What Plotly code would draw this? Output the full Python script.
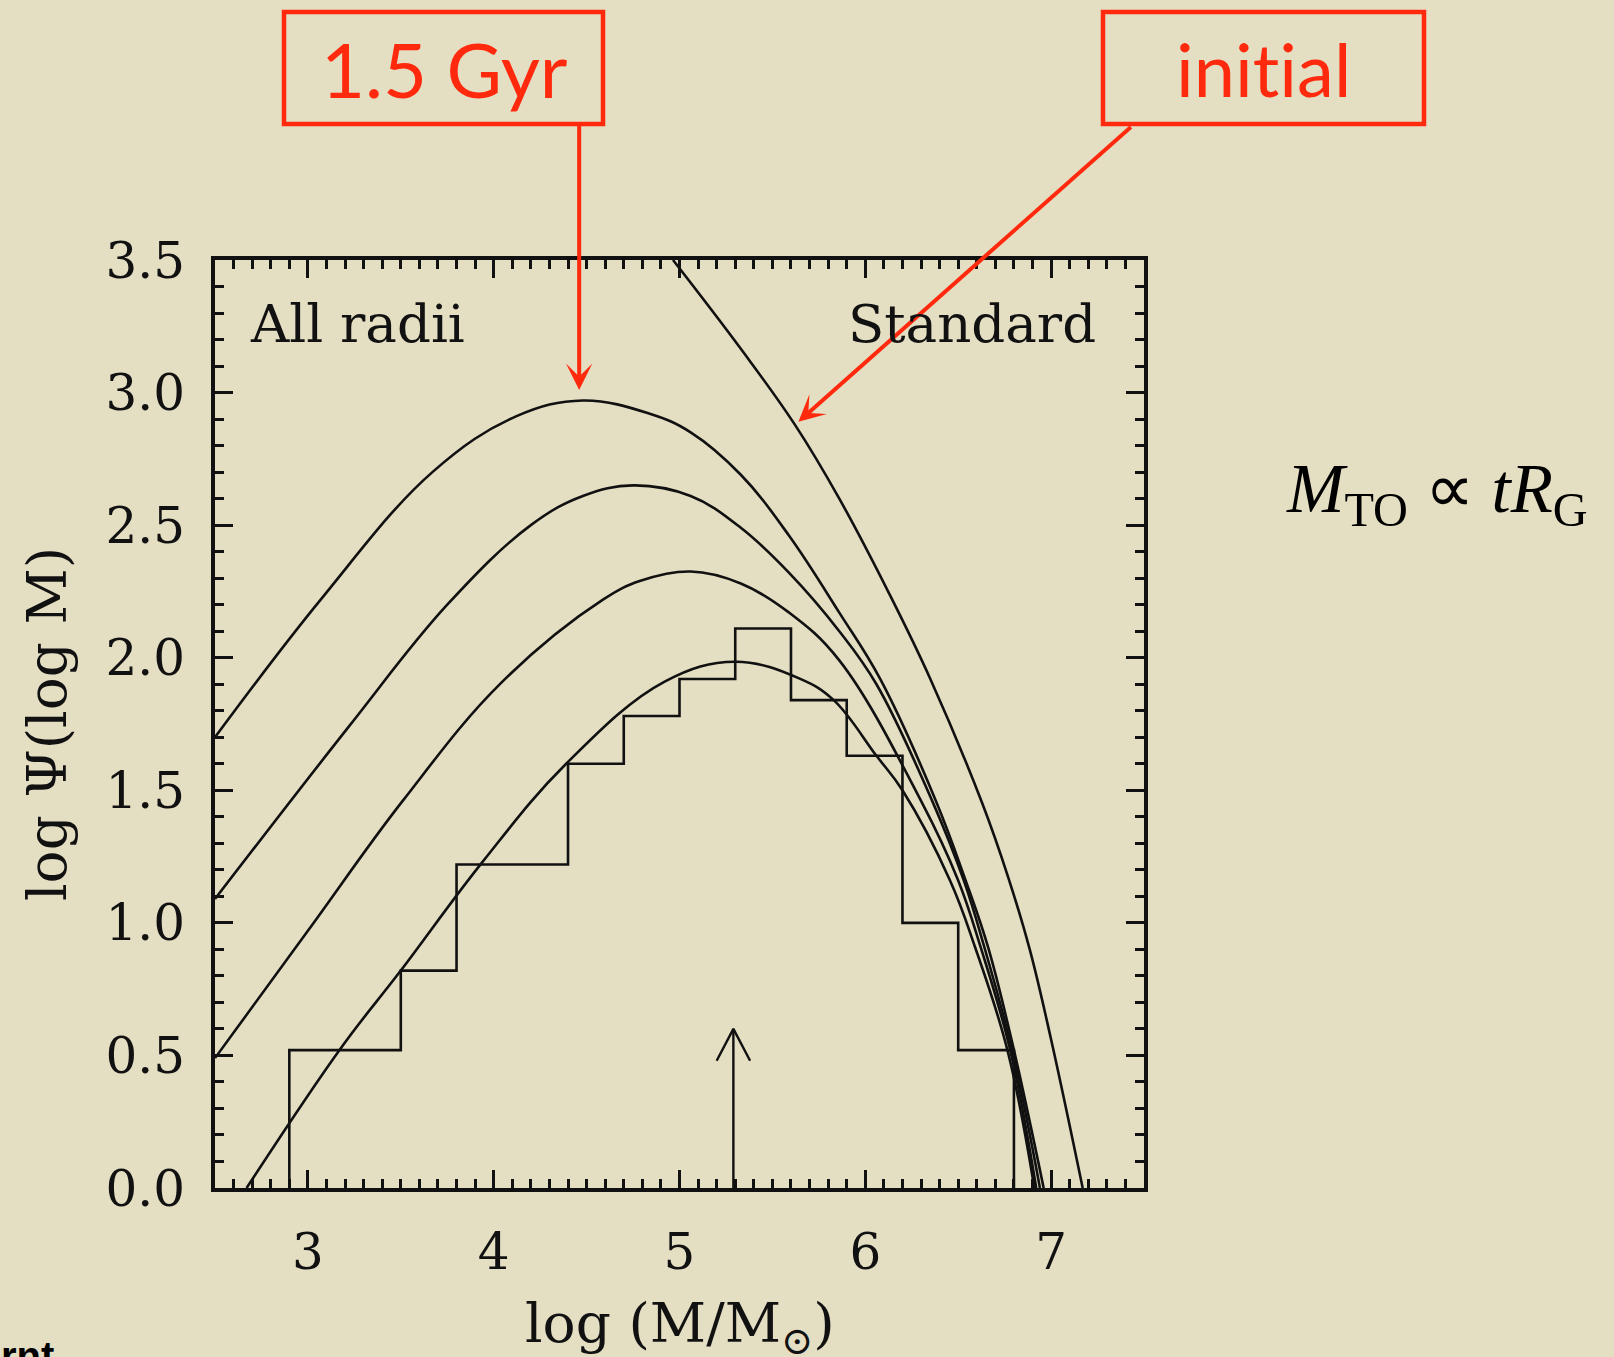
import plotly.graph_objects as go

# ---------------- data ----------------
# evolved mass functions (log Psi vs log M)
c1_x = [2.5, 3.07, 3.67, 4.12, 4.48, 4.84, 5.06, 5.33, 5.59, 5.86, 6.08, 6.38, 6.54, 6.66, 6.80, 6.96]
c1_y = [1.70, 2.22, 2.70, 2.91, 2.97, 2.92, 2.85, 2.69, 2.46, 2.17, 1.92, 1.46, 1.16, 0.91, 0.52, 0.0]

c2_x = [2.5, 3.22, 3.75, 4.2, 4.48, 4.75, 5.06, 5.33, 5.59, 5.86, 6.06, 6.36, 6.53, 6.64, 6.79, 6.94]
c2_y = [1.09, 1.74, 2.20, 2.50, 2.61, 2.65, 2.61, 2.49, 2.32, 2.10, 1.90, 1.46, 1.16, 0.91, 0.52, 0.0]

c3_x = [2.5, 3.0, 3.51, 4.04, 4.59, 4.79, 5.06, 5.33, 5.59, 5.86, 6.30, 6.50, 6.62, 6.78, 6.92]
c3_y = [0.49, 0.97, 1.46, 1.905, 2.22, 2.29, 2.325, 2.28, 2.17, 1.99, 1.46, 1.16, 0.91, 0.52, 0.0]

c4_x = [2.67, 3.18, 3.50, 3.94, 4.39, 4.92, 5.30, 5.65, 5.83, 6.06, 6.20, 6.456, 6.59, 6.765, 6.91]
c4_y = [0.0, 0.53, 0.82, 1.23, 1.60, 1.91, 1.985, 1.92, 1.84, 1.63, 1.50, 1.16, 0.91, 0.52, 0.0]

init_x = [4.965, 5.33, 5.62, 5.86, 6.13, 6.35, 6.63, 6.77, 6.885, 7.00, 7.17]
init_y = [3.50, 3.165, 2.88, 2.60, 2.24, 1.92, 1.45, 1.17, 0.90, 0.56, 0.0]

# observed histogram
bin_edges = [2.9, 3.2, 3.5, 3.8, 4.1, 4.4, 4.7, 5.0, 5.3, 5.6, 5.9, 6.2, 6.5, 6.8]
hist_vals = [0.52, 0.52, 0.82, 1.22, 1.22, 1.60, 1.78, 1.92, 2.11, 1.84, 1.63, 1.00, 0.52]

# vertical arrow marking the peak
arrow_x = 5.29
arrow_tip = 0.60
arrow_head_dx = 0.09
arrow_head_dy = 0.12

# red call-outs (data points they point at)
gyr_tip = (4.46, 3.01)
init_tip = (5.64, 2.89)

x_ticks = [3, 4, 5, 6, 7]
y_ticks = [0.0, 0.5, 1.0, 1.5, 2.0, 2.5, 3.0, 3.5]

# ---------------- figure ----------------
BLACK = "#111111"
RED = "#FF2A0D"
SERIF = "DejaVu Serif"

fig = go.Figure()

for xs, ys in [(c1_x, c1_y), (c2_x, c2_y), (c3_x, c3_y), (c4_x, c4_y), (init_x, init_y)]:
    fig.add_trace(go.Scatter(x=xs, y=ys, mode="lines",
                             line=dict(color=BLACK, width=2.6, shape="spline", smoothing=1.1),
                             hoverinfo="skip", showlegend=False))

# histogram as step line
hx = [bin_edges[0]] + bin_edges[:-1] + [bin_edges[-1]]
hy = [0.0] + hist_vals + [0.0]
fig.add_trace(go.Scatter(x=hx, y=hy, mode="lines",
                         line=dict(color=BLACK, width=2.6, shape="hv"),
                         hoverinfo="skip", showlegend=False))

# arrow (shaft + open head)
fig.add_trace(go.Scatter(
    x=[arrow_x, arrow_x, None, arrow_x - arrow_head_dx, arrow_x, arrow_x + arrow_head_dx],
    y=[0.0, arrow_tip, None, arrow_tip - arrow_head_dy, arrow_tip, arrow_tip - arrow_head_dy],
    mode="lines", line=dict(color=BLACK, width=2.4), hoverinfo="skip", showlegend=False))

# plot-area geometry (pixels) used to place paper-referenced decorations
W, H = 1614, 1357
L, R, T, B = 215, 1144, 260, 1188


def px(xp):
    return (xp - L) / (R - L)


def py(yp):
    return (B - yp) / (B - T)


# red boxes
for x0, x1 in [(284, 603), (1103, 1424)]:
    fig.add_shape(type="rect", xref="paper", yref="paper",
                  x0=px(x0), x1=px(x1), y0=py(124), y1=py(12),
                  line=dict(color=RED, width=4.5), fillcolor="rgba(0,0,0,0)")

NOLIG = "<span style='font-variant-ligatures:none'>{}</span>"
fig.add_annotation(xref="paper", yref="paper", x=px(444), y=py(68),
                   text=NOLIG.format("1.5 Gyr"), showarrow=False,
                   font=dict(family="Lato", size=76, color=RED), xanchor="center", yanchor="middle")
fig.add_annotation(xref="paper", yref="paper", x=px(1263), y=py(68),
                   text=NOLIG.format("initial"), showarrow=False,
                   font=dict(family="Lato", size=74, color=RED), xanchor="center", yanchor="middle")

# red arrows
fig.add_annotation(x=gyr_tip[0], y=gyr_tip[1], xref="x", yref="y", ax=0, ay=124 - 391,
                   text="", showarrow=True, arrowhead=3, arrowsize=1.1, arrowwidth=4,
                   arrowcolor=RED, standoff=0)
fig.add_annotation(x=init_tip[0], y=init_tip[1], xref="x", yref="y", ax=1132 - 798, ay=126 - 422,
                   text="", showarrow=True, arrowhead=3, arrowsize=1.1, arrowwidth=4,
                   arrowcolor=RED, standoff=0)

# in-panel labels
fig.add_annotation(x=2.68, y=3.26, xref="x", yref="y", text="All radii", showarrow=False,
                   xanchor="left", yanchor="middle", font=dict(family=SERIF, size=53, color=BLACK))
fig.add_annotation(x=7.25, y=3.26, xref="x", yref="y", text="Standard", showarrow=False,
                   xanchor="right", yanchor="middle", font=dict(family=SERIF, size=53, color=BLACK))

# axis titles
fig.add_annotation(xref="paper", yref="paper", x=0.5, y=py(1327), text="log (M/M<sub>⊙</sub>)",
                   showarrow=False, xanchor="center", yanchor="middle",
                   font=dict(family=SERIF, size=55, color=BLACK))
fig.add_annotation(xref="paper", yref="paper", x=px(47), y=0.5, text="log Ψ(log M)",
                   showarrow=False, xanchor="center", yanchor="middle", textangle=-90,
                   font=dict(family=SERIF, size=55, color=BLACK))

# formula on the right
fig.add_annotation(xref="paper", yref="paper", x=px(1437), y=py(493),
                   text="<i>M</i><sub>TO</sub>&nbsp;∝&nbsp;<i>tR</i><sub>G</sub>",
                   showarrow=False, xanchor="center", yanchor="middle",
                   font=dict(family="Liberation Serif", size=69, color="#000000"))

# cut-off slide text at the bottom-left corner
fig.add_annotation(xref="paper", yref="paper", x=px(56), y=py(1356), text="<b>rnt</b>",
                   showarrow=False, xanchor="right", yanchor="middle",
                   font=dict(family="Liberation Sans", size=40, color="#000000"))

axis_common = dict(showline=True, linewidth=4, linecolor=BLACK, mirror="allticks",
                   ticks="inside", ticklen=18, tickwidth=3, tickcolor=BLACK,
                   showgrid=False, zeroline=False)

fig.update_xaxes(range=[2.5, 7.5], tickvals=x_ticks, ticktext=[str(v) for v in x_ticks],
                 tickfont=dict(family=SERIF, size=50, color=BLACK), ticklabelstandoff=17,
                 minor=dict(ticks="inside", ticklen=9, tickwidth=2.5, tickcolor=BLACK, dtick=0.1,
                            tick0=2.5, showgrid=False),
                 **axis_common)
fig.update_yaxes(range=[0, 3.5], tickvals=y_ticks, ticktext=[f"{v:.1f}" for v in y_ticks],
                 tickfont=dict(family=SERIF, size=50, color=BLACK), ticklabelstandoff=16,
                 minor=dict(ticks="inside", ticklen=9, tickwidth=2.5, tickcolor=BLACK, dtick=0.1,
                            tick0=0, showgrid=False),
                 **axis_common)

fig.update_layout(width=W, height=H,
                  margin=dict(l=L, r=W - R, t=T, b=H - B, pad=0),
                  paper_bgcolor="#E4DEC3", plot_bgcolor="#E4DEC3",
                  showlegend=False)

fig.write_html("out.html", config={"displayModeBar": False},
               post_script="document.body.style.margin='0';document.body.style.overflow='hidden';")
